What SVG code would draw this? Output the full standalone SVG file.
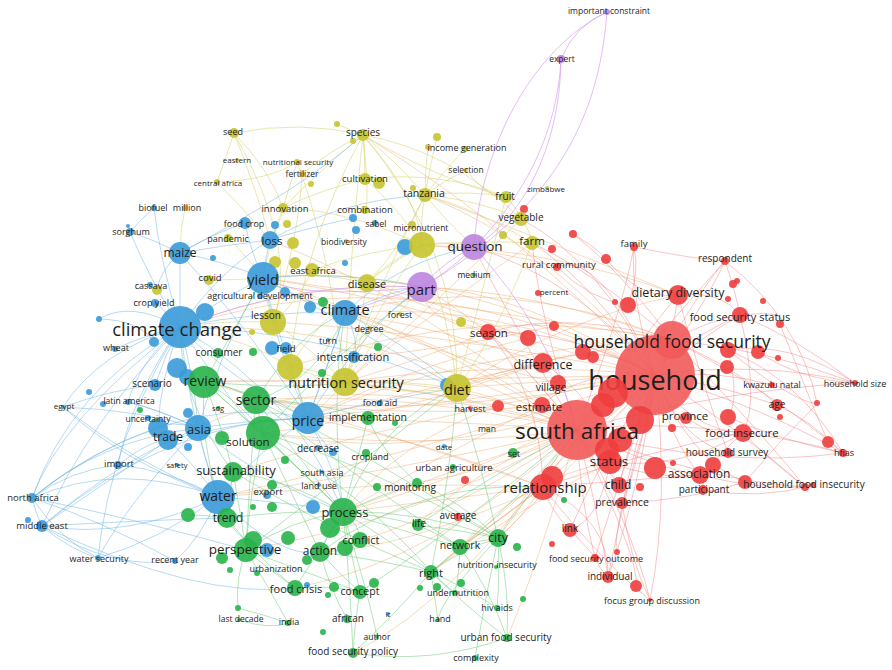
<svg xmlns="http://www.w3.org/2000/svg" width="892" height="670" viewBox="0 0 892 670">
<style>
text{font-family:"Open Sans","DejaVu Sans",sans-serif;fill:#1e1e1e;text-anchor:middle;dominant-baseline:central}
.r{fill:#ee3d3d;fill-opacity:.9}.R{fill:#f25a5a;fill-opacity:.9}
.g{fill:#27b34a;fill-opacity:.9}.b{fill:#3a9ad8;fill-opacity:.9}
.y{fill:#c6c32e;fill-opacity:.9}.p{fill:#bb85de;fill-opacity:.9}
#edges path{fill:none;stroke-width:.9}
.er{stroke:#f07070;stroke-opacity:.45}.eo{stroke:#eaa060;stroke-opacity:.45}
.eb{stroke:#6cb4e2;stroke-opacity:.55}.eg{stroke:#68c874;stroke-opacity:.55}
.ey{stroke:#d6d36a;stroke-opacity:.6}.ep{stroke:#d49ef0;stroke-opacity:.75}
</style>
<rect width="892" height="670" fill="#fff"/>
<g id="edges">
<g class="er">
<path d="M655 375Q675 330 678 295M655 375Q630 300 634 247M655 375Q705 305 725 261M655 375Q705 335 740 315M655 375Q720 370 772 385M655 375Q760 360 855 383M655 375Q720 385 777 405M655 375Q690 430 743 433M655 375Q680 440 728 453M655 375Q770 410 843 453M655 375Q670 440 700 475M655 375Q690 460 745 482M655 375Q740 430 805 487M655 375Q630 440 619 485M655 375Q640 460 622 503M655 375Q600 460 570 530M655 375Q620 480 595 558M655 375Q640 490 608 577M655 375Q670 500 650 600M655 375Q570 330 488 332M655 375Q590 280 532 243M655 375Q600 260 521 219M655 375Q580 280 474 247M655 375Q600 250 557 267M655 375Q600 340 543 363M655 375Q580 370 542 405M655 375Q580 420 543 487"/>
<path d="M577 430Q640 340 678 295M577 430Q680 340 740 315M577 430Q650 420 743 433M577 430Q700 480 805 487M577 430Q720 470 843 453M577 430Q600 520 608 577M577 430Q630 520 650 600M577 430Q580 500 595 558M577 430Q520 360 488 332M577 430Q540 320 532 243M577 430Q510 320 474 247M577 430Q620 320 634 247M577 430Q690 300 725 261M577 430Q720 390 855 383M577 430Q600 460 619 485M577 430Q660 470 700 475M577 430Q640 560 636 586"/>
<path d="M672 340Q710 320 740 315M672 340Q700 290 725 261M672 340Q740 370 777 405M672 340Q770 390 843 453M672 340Q760 430 805 487M672 340Q770 350 855 383M672 340Q630 460 608 577M672 340Q590 270 532 243M672 340Q570 310 488 332M672 340Q620 270 573 234"/>
<path d="M740 315Q800 340 855 383M725 261Q735 290 740 315M777 405Q810 420 843 453M743 433Q800 440 843 453M743 433Q770 460 805 487M678 295Q720 290 740 315M700 475Q760 490 805 487M543 487Q630 480 700 475M543 487Q650 450 743 433M543 487Q600 560 650 600M543 487Q550 510 570 530M543 487Q610 520 608 577M817 404Q780 440 745 482M780 324Q810 400 828 442M728 350Q790 400 817 404M634 247Q640 270 628 305M606 259Q640 300 678 295M622 503Q630 560 650 600M595 558Q600 570 608 577M570 530Q590 550 595 558M728 350Q790 340 855 383M740 315Q790 310 780 324M703 490Q760 500 813 485M743 433Q700 470 703 490"/>
<path d="M728 350Q800 380 843 453M758 352Q800 380 855 383M740 315Q760 400 743 433M678 295Q700 380 728 453M725 261Q800 320 817 403M634 247Q700 260 725 261M573 234Q600 250 606 259M610 462Q650 480 700 475M610 462Q680 470 743 433M543 363Q600 400 610 462M488 332Q540 390 543 487M557 267Q590 300 628 305M728 417Q780 440 843 453M686 418Q720 440 743 433M728 350Q740 400 728 417M610 462Q600 520 570 530M622 503Q690 500 745 482M655 375Q610 540 617 552"/>
</g>
<g class="eo">
<path d="M655 375Q500 300 345 313M655 375Q450 260 263 278M655 375Q420 250 180 327M655 375Q500 360 345 382M655 375Q470 400 308 418M655 375Q560 380 457 388M655 375Q430 450 218 497M655 375Q500 470 343 512M655 375Q560 480 498 538M655 375Q550 490 460 547M655 375Q520 500 431 572M655 375Q440 380 204 382M655 375Q450 420 256 400M655 375Q520 290 422 287"/>
<path d="M577 430Q420 330 263 278M577 430Q380 320 180 327M577 430Q400 390 256 400M577 430Q390 370 204 382M577 430Q400 470 218 497M577 430Q420 520 246 550M577 430Q450 520 320 552M577 430Q440 560 295 588M577 430Q540 560 507 638M577 430Q460 600 353 653M577 430Q440 420 308 418M577 430Q510 400 457 388M577 430Q470 350 345 313M577 430Q470 380 345 382M577 430Q500 330 422 287M577 430Q420 450 263 433M577 430Q450 470 343 512"/>
<path d="M543 487Q440 500 343 512M543 487Q500 520 460 547M543 487Q470 540 431 572M543 487Q420 440 308 418M543 487Q380 430 204 382M543 487Q380 480 218 497M543 363Q450 330 345 313M488 332Q400 300 263 278M488 332Q420 360 345 382M542 405Q420 420 256 400M498 406Q420 390 345 382M672 340Q500 270 345 313M672 340Q480 300 290 367M672 340Q460 350 308 418M672 340Q400 240 180 327M678 295Q560 320 457 388M678 295Q560 250 422 245M557 267Q500 250 422 245M532 243Q450 300 345 382M521 219Q440 300 345 382M457 388Q500 375 543 363M543 487Q520 520 498 538M528 338Q430 300 367 283M554 326Q450 350 354 357"/>
<path d="M655 375Q520 230 363 135M655 375Q560 250 425 195M655 375Q480 330 367 283M655 375Q470 470 263 433M655 375Q400 420 233 472M577 430Q470 470 418 525M577 430Q500 470 417 483M577 430Q420 300 270 240M577 430Q330 360 198 428M543 363Q420 390 308 418M542 405Q450 450 343 512M498 406Q400 440 343 512M488 332Q420 320 422 287M528 338Q400 370 308 418M672 340Q520 360 457 388M672 340Q420 300 263 278M678 295Q520 230 425 195M558 383Q420 350 345 313M543 487Q400 550 320 552M577 430Q520 500 498 538M610 462Q520 480 460 547M610 462Q500 520 431 572M543 363Q380 420 263 433M655 375Q420 330 273 322"/>
</g>
<g class="ey">
<path d="M363 135Q365 160 365 179M363 135Q395 160 425 195M363 135Q320 170 283 208M363 135Q330 150 302 174M363 135Q300 120 234 133M363 135Q450 150 521 219M363 135Q370 200 365 210M363 135Q420 200 422 245M363 135Q350 250 345 382M363 135Q440 180 506 197M425 195Q470 190 506 197M425 195Q480 200 521 219M425 195Q480 210 532 243M425 195Q445 180 466 170M425 195Q445 170 465 149M425 195Q420 220 422 245M425 195Q445 220 474 247M425 195Q400 250 367 283M425 195Q380 280 345 382"/>
<path d="M234 133Q270 170 283 208M234 133Q260 200 270 240M234 133Q225 160 217 182M297 162Q290 185 283 208M283 208Q280 225 270 240M283 208Q270 240 263 278M283 208Q350 210 422 245M283 208Q320 190 365 179M365 179Q400 210 422 245M365 179Q440 170 506 197M422 245Q450 240 474 247M422 245Q480 240 532 243M422 245Q380 300 345 382M422 245Q390 260 367 283M422 245Q370 250 312 270M422 245Q450 320 457 388M367 283Q340 270 312 270M367 283Q310 270 263 278M367 283Q360 330 345 382M367 283Q395 280 422 287"/>
<path d="M345 382Q320 370 290 367M345 382Q400 380 457 388M345 382Q300 340 273 322M345 382Q390 320 422 287M345 382Q330 400 308 418M273 322Q265 300 263 278M273 322Q225 320 180 327M506 197Q515 205 521 219M521 219Q530 230 532 243M437 137Q430 165 425 195M428 147Q425 170 425 195M209 280Q235 280 263 278M228 238Q250 260 263 278M217 182Q245 210 270 240M185 208Q180 230 180 253M302 174Q300 230 273 322M337 124Q350 130 363 135M290 367Q250 340 180 327M290 367Q300 390 308 418M312 270Q300 300 273 322M363 135Q460 250 457 388M466 170Q490 200 506 197"/>
<path d="M234 133Q300 250 273 322M363 135Q300 250 290 367M297 162Q330 250 345 382M506 197Q480 300 457 388M532 243Q500 330 457 388M217 182Q270 180 297 162M422 245Q330 300 290 367M457 388Q380 400 290 367"/>
</g>
<g class="ep">
<path d="M607 12Q575 25 561 59M607 12C530 50 480 150 474 247M607 12C600 100 570 200 422 287M561 59C560 150 520 220 474 247M561 59C555 180 470 260 422 287M474 247Q445 260 422 287M422 287Q300 280 180 327M422 287Q380 300 345 313M474 247Q550 330 577 430M422 287Q300 300 263 278"/>
</g>
<g class="eb">
<path d="M180 327Q180 290 180 253M180 327Q150 280 130 232M180 327Q160 260 154 208M180 327Q165 310 155 303M180 327Q145 335 115 349M180 327Q100 350 63 407M180 327Q140 360 128 402M180 327Q70 390 32 498M180 327Q90 420 42 526M180 327Q130 400 118 465M180 327Q160 380 158 428M180 327Q195 380 198 428M180 327Q190 420 218 497M180 327Q165 355 155 385M180 327Q220 300 263 278M180 327Q220 270 270 240M180 327Q230 380 308 418M180 327Q260 310 345 313M180 327Q110 440 98 558M180 327Q130 300 99 319M180 327Q320 330 457 388"/>
<path d="M180 253Q220 260 263 278M180 253Q155 240 130 232M180 253Q210 235 245 223M180 253Q225 245 270 240M180 253Q250 330 308 418M180 253Q160 270 157 290M32 498Q35 512 42 526M32 498Q120 460 218 497M32 498Q100 440 198 428M32 498Q70 470 118 465M32 498Q90 450 158 428M32 498Q170 390 308 418M32 498Q60 540 98 558M32 498Q100 520 175 561M42 526Q130 540 218 497M42 526Q70 550 98 558M42 526Q120 460 198 428M42 526Q110 570 175 561M42 526Q170 420 308 418M42 526Q110 480 168 440"/>
<path d="M218 497Q160 540 98 558M218 497Q200 540 175 561M218 497Q190 460 168 440M218 497Q205 460 198 428M218 497Q260 450 308 418M218 497Q120 460 63 407M218 497Q170 470 118 465M198 428Q250 420 308 418M198 428Q170 420 158 428M198 428Q140 410 63 407M198 428Q160 410 128 402M198 428Q220 350 263 278M308 418Q280 340 263 278M308 418Q330 360 345 313M308 418Q380 400 457 388M308 418Q250 420 168 440M308 418Q370 320 422 287"/>
<path d="M263 278Q265 260 270 240M263 278Q300 300 345 313M263 278Q250 250 245 223M263 278Q340 270 422 287M263 278Q360 330 457 388M263 278Q280 360 308 418M345 313Q390 290 422 287M345 313Q330 360 308 418M345 313Q400 340 457 388M345 313Q360 340 354 357M63 407Q110 390 155 385M118 465Q150 440 168 440M128 402Q160 410 198 428M98 558Q130 500 198 428M130 232Q140 220 154 208M218 497Q230 540 267 550M308 418Q320 440 333 452M218 497Q260 500 313 507M270 240Q300 230 353 218M99 319Q140 320 154 342"/>
<path d="M180 327Q300 400 343 512M180 327Q250 430 263 433M198 428Q260 480 343 512M218 497Q280 560 320 552M32 498Q140 520 246 550M42 526Q150 520 227 518M63 407Q130 460 218 497M308 418Q340 480 343 512M270 240Q340 200 425 195M345 313Q400 260 474 247M180 253Q300 190 363 135M32 498Q60 420 180 327M42 526Q200 600 295 588"/>
</g>
<g class="eg">
<path d="M204 382Q230 385 256 400M204 382Q240 400 263 433M204 382Q200 440 218 497M204 382Q270 440 343 512M204 382Q250 390 308 418M204 382Q220 420 233 472M256 400Q260 420 263 433M256 400Q300 460 343 512M256 400Q250 470 246 550M256 400Q380 460 498 538M256 400Q360 480 460 547M256 400Q310 400 368 418M263 433Q300 470 343 512M263 433Q290 490 320 552M263 433Q250 490 246 550M263 433Q380 470 498 538M263 433Q370 500 431 572M233 472Q290 480 343 512M233 472Q240 510 246 550M233 472Q330 530 431 572M233 472Q230 495 227 518"/>
<path d="M343 512Q420 510 498 538M343 512Q400 530 460 547M343 512Q390 540 431 572M343 512Q350 550 360 592M343 512Q380 515 418 525M343 512Q380 495 417 483M343 512Q320 550 295 588M343 512Q290 520 246 550M343 512Q330 530 320 552M343 512Q360 525 360 540M246 550Q270 570 295 588M246 550Q270 590 288 623M246 550Q235 580 238 608M246 550Q300 570 360 592M320 552Q340 575 360 592M320 552Q380 560 431 572M320 552Q330 590 347 619"/>
<path d="M498 538Q480 540 460 547M498 538Q510 590 507 638M498 538Q460 550 431 572M498 538Q500 575 497 608M498 538Q485 600 475 658M460 547Q445 560 431 572M460 547Q460 570 455 593M460 547Q490 590 507 638M431 572Q445 585 455 593M431 572Q470 590 497 608M431 572Q435 600 438 620M431 572Q470 610 507 638M431 572Q390 620 353 653M353 653Q350 580 343 512M353 653Q430 665 507 638M353 653Q355 620 360 592M360 592Q330 585 295 588M418 525Q460 530 498 538M418 525Q440 535 460 547M227 518Q290 510 343 512M227 518Q205 515 188 515M227 518Q260 560 295 588M417 483Q460 500 498 538M368 418Q355 470 343 512M238 608Q265 615 288 623M343 512Q370 600 377 637M498 538Q440 600 438 620M204 382Q300 390 345 382M256 400Q320 380 345 313M239 620Q270 630 288 623"/>
<path d="M343 512Q380 420 457 388M343 512Q330 400 345 313M256 400Q300 330 345 313M263 433Q340 350 422 287M204 382Q240 320 263 278M233 472Q180 400 180 327M343 512Q260 430 204 382M498 538Q480 460 457 388M431 572Q450 480 457 388M460 547Q520 500 577 430M498 538Q540 480 577 430M360 592Q470 520 577 430M418 525Q500 470 577 430M417 483Q380 450 368 418M246 550Q350 470 457 388M320 552Q420 480 543 487"/>
</g>
</g>
<g id="nodes">
<g id="u-red"><circle class="r" cx="573" cy="234" r="4"/><circle class="r" cx="552" cy="249" r="4"/><circle class="r" cx="606" cy="259" r="5"/><circle class="r" cx="628" cy="305" r="8"/><circle class="r" cx="615" cy="302" r="3"/><circle class="r" cx="733" cy="284" r="4"/><circle class="r" cx="737" cy="281" r="3"/><circle class="r" cx="728" cy="299" r="3"/><circle class="r" cx="763" cy="301" r="3"/><circle class="r" cx="780" cy="324" r="4"/><circle class="r" cx="728" cy="350" r="8"/><circle class="r" cx="758" cy="352" r="7"/><circle class="r" cx="778" cy="358" r="3"/><circle class="r" cx="583" cy="352" r="8"/><circle class="r" cx="593" cy="357" r="6"/><circle class="r" cx="727" cy="367" r="7"/><circle class="r" cx="817" cy="403" r="3"/><circle class="r" cx="780" cy="417" r="3"/><circle class="r" cx="728" cy="417" r="8"/><circle class="r" cx="672" cy="428" r="4"/><circle class="r" cx="828" cy="442" r="6"/><circle class="r" cx="673" cy="463" r="3"/><circle class="r" cx="713" cy="465" r="8"/><circle class="r" cx="640" cy="487" r="4"/><circle class="r" cx="813" cy="485" r="3"/><circle class="r" cx="805" cy="487" r="4"/><circle class="r" cx="617" cy="552" r="3"/><circle class="r" cx="636" cy="586" r="6"/><circle class="r" cx="528" cy="338" r="8"/><circle class="r" cx="554" cy="326" r="5"/><circle class="r" cx="498" cy="406" r="6"/><circle class="r" cx="465" cy="480" r="4"/><circle class="r" cx="552" cy="544" r="3"/><circle class="r" cx="524" cy="209" r="4"/></g>
<g id="u-yellow"><circle class="y" cx="337" cy="124" r="3"/><circle class="y" cx="353" cy="141" r="3"/><circle class="y" cx="311" cy="184" r="3"/><circle class="y" cx="428" cy="147" r="3"/><circle class="y" cx="437" cy="137" r="4"/><circle class="y" cx="379" cy="183" r="6"/><circle class="y" cx="413" cy="188" r="3"/><circle class="y" cx="503" cy="235" r="4"/><circle class="y" cx="287" cy="224" r="4"/><circle class="y" cx="293" cy="243" r="6"/><circle class="y" cx="275" cy="262" r="6"/><circle class="y" cx="295" cy="263" r="6"/><circle class="y" cx="461" cy="322" r="5"/><circle class="y" cx="252" cy="332" r="3"/></g>
<g id="u-blue"><circle class="b" cx="128" cy="226" r="2"/><circle class="b" cx="213" cy="258" r="3"/><circle class="b" cx="275" cy="225" r="4"/><circle class="b" cx="285" cy="292" r="5"/><circle class="b" cx="205" cy="312" r="9"/><circle class="b" cx="99" cy="319" r="3"/><circle class="b" cx="154" cy="342" r="5"/><circle class="b" cx="310" cy="307" r="6"/><circle class="b" cx="177" cy="368" r="10"/><circle class="b" cx="187" cy="377" r="8"/><circle class="b" cx="103" cy="404" r="3"/><circle class="b" cx="89" cy="392" r="3"/><circle class="b" cx="188" cy="413" r="5"/><circle class="b" cx="158" cy="428" r="10"/><circle class="b" cx="188" cy="447" r="4"/><circle class="b" cx="313" cy="507" r="7"/><circle class="b" cx="267" cy="550" r="7"/><circle class="b" cx="28" cy="520" r="3"/><circle class="b" cx="353" cy="218" r="4"/><circle class="b" cx="356" cy="230" r="4"/><circle class="b" cx="405" cy="247" r="8"/><circle class="b" cx="345" cy="263" r="3"/><circle class="b" cx="272" cy="348" r="7"/><circle class="b" cx="333" cy="452" r="4"/><circle class="b" cx="307" cy="585" r="3"/><circle class="b" cx="150" cy="285" r="3"/><circle class="b" cx="447" cy="385" r="7"/></g>
<g id="u-green"><circle class="g" cx="253" cy="352" r="4"/><circle class="g" cx="140" cy="410" r="3"/><circle class="g" cx="222" cy="438" r="7"/><circle class="g" cx="272" cy="485" r="5"/><circle class="g" cx="272" cy="507" r="5"/><circle class="g" cx="253" cy="507" r="3"/><circle class="g" cx="188" cy="515" r="7"/><circle class="g" cx="253" cy="540" r="9"/><circle class="g" cx="222" cy="558" r="6"/><circle class="g" cx="230" cy="570" r="3"/><circle class="g" cx="288" cy="538" r="7"/><circle class="g" cx="330" cy="528" r="10"/><circle class="g" cx="345" cy="548" r="8"/><circle class="g" cx="307" cy="560" r="5"/><circle class="g" cx="334" cy="587" r="5"/><circle class="g" cx="328" cy="595" r="3"/><circle class="g" cx="374" cy="583" r="5"/><circle class="g" cx="420" cy="588" r="3"/><circle class="g" cx="437" cy="587" r="4"/><circle class="g" cx="461" cy="583" r="4"/><circle class="g" cx="523" cy="599" r="3"/><circle class="g" cx="517" cy="547" r="4"/><circle class="g" cx="323" cy="632" r="3"/><circle class="g" cx="238" cy="608" r="3"/><circle class="g" cx="377" cy="487" r="4"/><circle class="g" cx="322" cy="373" r="4"/><circle class="g" cx="378" cy="347" r="4"/><circle class="g" cx="395" cy="423" r="3"/><circle class="g" cx="285" cy="460" r="4"/><circle class="g" cx="564" cy="500" r="3"/><circle class="g" cx="323" cy="302" r="5"/></g>
<g id="n-household"><circle class="R" cx="655" cy="375" r="40"/><text x="655" y="379" font-size="27">household</text></g>
<g id="n-south-africa"><circle class="R" cx="577" cy="430" r="30"/><circle class="r" cx="613" cy="393" r="15"/><circle class="r" cx="640" cy="420" r="14"/><circle class="r" cx="603" cy="405" r="12"/><circle class="r" cx="620" cy="440" r="12"/><circle class="r" cx="552" cy="477" r="11"/><circle class="r" cx="607" cy="450" r="12"/><circle class="r" cx="655" cy="468" r="11"/><text x="577" y="430" font-size="22.5">south africa</text></g>
<g id="n-household-food-security"><circle class="R" cx="672" cy="340" r="19"/><text x="672" y="341" font-size="17.5">household food security</text></g>
<g id="n-climate-change"><circle class="b" cx="180" cy="327" r="21"/><text x="177" y="328" font-size="18.5">climate change</text></g>
<g id="n-yield"><circle class="b" cx="263" cy="278" r="16"/><text x="263" y="279" font-size="14.5">yield</text></g>
<g id="n-price"><circle class="b" cx="308" cy="418" r="16"/><text x="308" y="420" font-size="14">price</text></g>
<g id="n-water"><circle class="b" cx="218" cy="497" r="17"/><text x="218" y="495" font-size="14">water</text></g>
<g id="n-solution"><circle class="g" cx="263" cy="433" r="17"/><text x="248" y="441" font-size="11.5">solution</text></g>
<g id="n-review"><circle class="g" cx="204" cy="382" r="16"/><text x="205" y="380" font-size="14">review</text></g>
<g id="n-part"><circle class="p" cx="422" cy="287" r="15"/><text x="421" y="289" font-size="15">part</text></g>
<g id="n-sector"><circle class="g" cx="256" cy="400" r="14"/><text x="256" y="399" font-size="14">sector</text></g>
<g id="n-process"><circle class="g" cx="343" cy="512" r="14"/><text x="345" y="512" font-size="13">process</text></g>
<g id="n-nutrition-security"><circle class="y" cx="290" cy="367" r="13"/><circle class="y" cx="345" cy="382" r="14"/><text x="346" y="382" font-size="14.5">nutrition security</text></g>
<g id="n-diet"><circle class="y" cx="457" cy="388" r="14"/><text x="457" y="389" font-size="14.5">diet</text></g>
<g id="n-asia"><circle class="b" cx="198" cy="428" r="13"/><text x="199" y="429" font-size="13">asia</text></g>
<g id="n-climate"><circle class="b" cx="345" cy="313" r="13"/><text x="345" y="309" font-size="14.5">climate</text></g>
<g id="n-question"><circle class="p" cx="474" cy="247" r="13"/><text x="475" y="246" font-size="13.5">question</text></g>
<g id="n-micronutrient"><circle class="y" cx="422" cy="245" r="13"/><circle class="y" cx="412" cy="225" r="4"/><text x="421" y="227" font-size="8.5">micronutrient</text></g>
<g id="n-lesson"><circle class="y" cx="273" cy="322" r="13"/><text x="266" y="315" font-size="10">lesson</text></g>
<g id="n-relationship"><circle class="r" cx="543" cy="487" r="13"/><text x="545" y="487" font-size="15">relationship</text></g>
<g id="n-status"><circle class="r" cx="610" cy="462" r="12"/><text x="609" y="461" font-size="13.5">status</text></g>
<g id="n-perspective"><circle class="g" cx="246" cy="550" r="12"/><text x="245" y="549" font-size="13.5">perspective</text></g>
<g id="n-maize"><circle class="b" cx="180" cy="253" r="11"/><text x="180" y="252" font-size="12">maize</text></g>
<g id="n-trade"><circle class="b" cx="168" cy="440" r="10"/><text x="168" y="436" font-size="12">trade</text></g>
<g id="n-sustainability"><circle class="g" cx="233" cy="472" r="10"/><text x="236" y="470" font-size="13">sustainability</text></g>
<g id="n-trend"><circle class="g" cx="227" cy="518" r="10"/><text x="228" y="517" font-size="12">trend</text></g>
<g id="n-action"><circle class="g" cx="320" cy="552" r="10"/><text x="320" y="550" font-size="12">action</text></g>
<g id="n-dietary-diversity"><circle class="r" cx="678" cy="295" r="10"/><text x="678" y="292" font-size="12.5">dietary diversity</text></g>
<g id="n-difference"><circle class="r" cx="543" cy="363" r="10"/><text x="543" y="364" font-size="12.5">difference</text></g>
<g id="n-loss"><circle class="b" cx="270" cy="240" r="9"/><text x="272" y="240" font-size="11.5">loss</text></g>
<g id="n-disease"><circle class="y" cx="367" cy="283" r="9"/><text x="367" y="283" font-size="11">disease</text></g>
<g id="n-food-insecure"><circle class="r" cx="743" cy="433" r="9"/><text x="742" y="432" font-size="11.5">food insecure</text></g>
<g id="n-association"><circle class="r" cx="700" cy="475" r="9"/><text x="699" y="473" font-size="12">association</text></g>
<g id="n-city"><circle class="g" cx="498" cy="538" r="9"/><text x="498" y="537" font-size="12.5">city</text></g>
<g id="n-season"><circle class="r" cx="488" cy="332" r="8"/><text x="489" y="332" font-size="11.5">season</text></g>
<g id="n-village"><circle class="r" cx="558" cy="383" r="8"/><text x="551" y="387" font-size="10.5">village</text></g>
<g id="n-estimate"><circle class="r" cx="542" cy="405" r="8"/><text x="539" y="406" font-size="11.5">estimate</text></g>
<g id="n-food-security-status"><circle class="r" cx="740" cy="315" r="8"/><text x="740" y="316" font-size="11">food security status</text></g>
<g id="n-child"><circle class="r" cx="619" cy="485" r="8"/><text x="618" y="484" font-size="12">child</text></g>
<g id="n-conflict"><circle class="g" cx="360" cy="540" r="8"/><text x="361" y="539" font-size="11">conflict</text></g>
<g id="n-network"><circle class="g" cx="460" cy="547" r="8"/><text x="460" y="545" font-size="10.5">network</text></g>
<g id="n-food-crisis"><circle class="g" cx="295" cy="588" r="8"/><text x="296" y="588" font-size="11">food crisis</text></g>
<g id="n-tanzania"><circle class="y" cx="425" cy="195" r="7"/><text x="424" y="193" font-size="10.5">tanzania</text></g>
<g id="n-vegetable"><circle class="y" cx="521" cy="219" r="7"/><text x="521" y="217" font-size="10">vegetable</text></g>
<g id="n-farm"><circle class="y" cx="532" cy="243" r="7"/><text x="532" y="240" font-size="11.5">farm</text></g>
<g id="n-east-africa"><circle class="y" cx="312" cy="270" r="7"/><text x="313" y="270" font-size="9.5">east africa</text></g>
<g id="n-implementation"><circle class="g" cx="368" cy="418" r="7"/><text x="368" y="417" font-size="10.5">implementation</text></g>
<g id="n-right"><circle class="g" cx="431" cy="572" r="7"/><text x="431" y="572" font-size="11">right</text></g>
<g id="n-concept"><circle class="g" cx="360" cy="592" r="7"/><text x="360" y="591" font-size="10.5">concept</text></g>
<g id="n-link"><circle class="r" cx="570" cy="530" r="7"/><text x="570" y="528" font-size="10">link</text></g>
<g id="n-household-food-insecurity"><circle class="r" cx="745" cy="482" r="7"/><text x="804" y="484" font-size="10">household food insecurity</text></g>
<g id="n-species"><circle class="y" cx="363" cy="135" r="6"/><text x="363" y="132" font-size="10">species</text></g>
<g id="n-cultivation"><circle class="y" cx="365" cy="179" r="6"/><text x="365" y="178" font-size="9.5">cultivation</text></g>
<g id="n-fruit"><circle class="y" cx="506" cy="197" r="6"/><text x="505" y="196" font-size="10">fruit</text></g>
<g id="n-food-crop"><circle class="b" cx="245" cy="223" r="6"/><text x="244" y="223" font-size="9">food crop</text></g>
<g id="n-scenario"><circle class="b" cx="155" cy="385" r="6"/><text x="152" y="383" font-size="10">scenario</text></g>
<g id="n-field"><circle class="b" cx="286" cy="348" r="6"/><text x="286" y="348" font-size="9.5">field</text></g>
<g id="n-intensification"><circle class="b" cx="354" cy="357" r="6"/><text x="353" y="356" font-size="11">intensification</text></g>
<g id="n-middle-east"><circle class="b" cx="42" cy="526" r="6"/><text x="42" y="525" font-size="9.5">middle east</text></g>
<g id="n-age"><circle class="r" cx="777" cy="405" r="6"/><text x="777" y="404" font-size="10">age</text></g>
<g id="n-province"><circle class="r" cx="686" cy="418" r="6"/><text x="685" y="415" font-size="11.5">province</text></g>
<g id="n-prevalence"><circle class="r" cx="622" cy="503" r="6"/><text x="622" y="502" font-size="10.5">prevalence</text></g>
<g id="n-individual"><circle class="r" cx="608" cy="577" r="6"/><text x="610" y="576" font-size="10">individual</text></g>
<g id="n-life"><circle class="g" cx="418" cy="525" r="6"/><text x="419" y="523" font-size="10">life</text></g>
<g id="n-seed"><circle class="y" cx="234" cy="133" r="5"/><text x="233" y="131" font-size="9">seed</text></g>
<g id="n-innovation"><circle class="y" cx="283" cy="208" r="5"/><text x="285" y="208" font-size="9.5">innovation</text></g>
<g id="n-covid"><circle class="y" cx="209" cy="280" r="5"/><text x="210" y="277" font-size="9.5">covid</text></g>
<g id="n-cassava"><circle class="y" cx="157" cy="290" r="5"/><text x="151" y="285" font-size="9">cassava</text></g>
<g id="n-consumer"><circle class="g" cx="218" cy="353" r="5"/><text x="219" y="352" font-size="10">consumer</text></g>
<g id="n-north-africa"><circle class="b" cx="32" cy="498" r="5"/><text x="33" y="497" font-size="9.5">north africa</text></g>
<g id="n-household-survey"><circle class="r" cx="728" cy="453" r="5"/><text x="727" y="452" font-size="10">household survey</text></g>
<g id="n-participant"><circle class="r" cx="703" cy="490" r="5"/><text x="704" y="489" font-size="10">participant</text></g>
<g id="n-set"><circle class="g" cx="513" cy="453" r="5"/><text x="514" y="453" font-size="9">set</text></g>
<g id="n-monitoring"><circle class="g" cx="417" cy="483" r="5"/><text x="410" y="487" font-size="10">monitoring</text></g>
<g id="n-food-security-policy"><circle class="g" cx="353" cy="653" r="5"/><text x="353" y="651" font-size="10">food security policy</text></g>
<g id="n-expert"><circle class="p" cx="561" cy="59" r="4"/><text x="562" y="58" font-size="8.5">expert</text></g>
<g id="n-combination"><circle class="y" cx="365" cy="210" r="4"/><text x="365" y="209" font-size="9.5">combination</text></g>
<g id="n-pandemic"><circle class="y" cx="228" cy="238" r="4"/><text x="228" y="238" font-size="9">pandemic</text></g>
<g id="n-sorghum"><circle class="b" cx="130" cy="232" r="4"/><text x="131" y="231" font-size="9">sorghum</text></g>
<g id="n-crop-yield"><circle class="b" cx="155" cy="303" r="4"/><text x="154" y="302" font-size="9">crop yield</text></g>
<g id="n-import"><circle class="b" cx="118" cy="465" r="4"/><text x="119" y="463" font-size="9.5">import</text></g>
<g id="n-export"><circle class="b" cx="267" cy="495" r="4"/><text x="268" y="491" font-size="9.5">export</text></g>
<g id="n-family"><circle class="r" cx="634" cy="247" r="4"/><text x="634" y="243" font-size="9.5">family</text></g>
<g id="n-respondent"><circle class="r" cx="725" cy="261" r="4"/><text x="725" y="258" font-size="10">respondent</text></g>
<g id="n-rural-community"><circle class="r" cx="557" cy="267" r="4"/><text x="559" y="264" font-size="9.5">rural community</text></g>
<g id="n-hfias"><circle class="r" cx="843" cy="453" r="4"/><text x="844" y="452" font-size="9">hfias</text></g>
<g id="n-food-security-outcome"><circle class="r" cx="595" cy="558" r="4"/><text x="596" y="558" font-size="9">food security outcome</text></g>
<g id="n-average"><circle class="r" cx="458" cy="517" r="4"/><text x="458" y="515" font-size="10">average</text></g>
<g id="n-cropland"><circle class="g" cx="366" cy="453" r="4"/><text x="370" y="456" font-size="9">cropland</text></g>
<g id="n-african"><circle class="g" cx="347" cy="619" r="4"/><text x="348" y="618" font-size="10">african</text></g>
<g id="n-urban-food-security"><circle class="g" cx="507" cy="638" r="4"/><text x="506" y="637" font-size="10">urban food security</text></g>
<g id="n-important-constraint"><circle class="p" cx="607" cy="12" r="3"/><text x="609" y="10" font-size="8.5">important constraint</text></g>
<g id="n-nutritional-security"><circle class="y" cx="297" cy="162" r="3"/><text x="298" y="161" font-size="8">nutritional security</text></g>
<g id="n-fertilizer"><circle class="y" cx="302" cy="174" r="3"/><text x="302" y="173" font-size="8.5">fertilizer</text></g>
<g id="n-central-africa"><circle class="y" cx="217" cy="182" r="3"/><text x="218" y="182" font-size="8">central africa</text></g>
<g id="n-income-generation"><circle class="y" cx="465" cy="149" r="3"/><text x="467" y="147" font-size="9">income generation</text></g>
<g id="n-million"><circle class="y" cx="185" cy="208" r="3"/><text x="187" y="207" font-size="9">million</text></g>
<g id="n-biofuel"><circle class="b" cx="154" cy="208" r="3"/><text x="153" y="207" font-size="9">biofuel</text></g>
<g id="n-sabel"><circle class="b" cx="375" cy="223" r="3"/><text x="376" y="223" font-size="8.5">sabel</text></g>
<g id="n-percent"><circle class="r" cx="538" cy="293" r="3"/><text x="554" y="291" font-size="8">percent</text></g>
<g id="n-agricultural-development"><circle class="b" cx="260" cy="296" r="3"/><text x="260" y="295" font-size="9">agricultural development</text></g>
<g id="n-wheat"><circle class="b" cx="115" cy="349" r="3"/><text x="116" y="347" font-size="9">wheat</text></g>
<g id="n-latin-america"><circle class="b" cx="128" cy="402" r="3"/><text x="129" y="400" font-size="8.5">latin america</text></g>
<g id="n-uncertainty"><circle class="b" cx="148" cy="418" r="3"/><text x="148" y="418" font-size="8.5">uncertainty</text></g>
<g id="n-food-aid"><circle class="b" cx="380" cy="403" r="3"/><text x="380" y="402" font-size="9">food aid</text></g>
<g id="n-decrease"><circle class="b" cx="318" cy="448" r="3"/><text x="318" y="448" font-size="10">decrease</text></g>
<g id="n-water-security"><circle class="b" cx="98" cy="558" r="3"/><text x="99" y="558" font-size="9">water security</text></g>
<g id="n-recent-year"><circle class="b" cx="175" cy="561" r="3"/><text x="175" y="559" font-size="9">recent year</text></g>
<g id="n-kwazulu-natal"><circle class="r" cx="772" cy="385" r="3"/><text x="772" y="384" font-size="9">kwazulu natal</text></g>
<g id="n-household-size"><circle class="r" cx="855" cy="383" r="3"/><text x="855" y="383" font-size="9">household size</text></g>
<g id="n-urbanization"><circle class="g" cx="257" cy="573" r="3"/><text x="276" y="568" font-size="9">urbanization</text></g>
<g id="n-india"><circle class="g" cx="288" cy="623" r="3"/><text x="289" y="621" font-size="9">india</text></g>
<g id="n-urban-agriculture"><circle class="g" cx="453" cy="467" r="3"/><text x="454" y="467" font-size="9.5">urban agriculture</text></g>
<g id="n-undernutrition"><circle class="g" cx="455" cy="593" r="3"/><text x="458" y="592" font-size="9">undernutrition</text></g>
<g id="n-hiv-aids"><circle class="g" cx="497" cy="608" r="3"/><text x="497" y="607" font-size="9">hiv aids</text></g>
<g id="n-complexity"><circle class="g" cx="475" cy="658" r="3"/><text x="476" y="657" font-size="9">complexity</text></g>
<g id="n-eastern"><circle class="y" cx="237" cy="160" r="2"/><text x="237" y="159" font-size="8">eastern</text></g>
<g id="n-selection"><circle class="y" cx="466" cy="170" r="2"/><text x="466" y="169" font-size="8.5">selection</text></g>
<g id="n-zimbabwe"><circle class="y" cx="547" cy="188" r="2"/><text x="546" y="188" font-size="8">zimbabwe</text></g>
<g id="n-biodiversity"><circle class="y" cx="346" cy="241" r="2"/><text x="344" y="241" font-size="8.5">biodiversity</text></g>
<g id="n-medium"><circle class="g" cx="474" cy="275" r="2"/><text x="474" y="274" font-size="8.5">medium</text></g>
<g id="n-forest"><circle class="y" cx="400" cy="314" r="2"/><text x="400" y="314" font-size="9">forest</text></g>
<g id="n-degree"><circle class="y" cx="369" cy="328" r="2"/><text x="369" y="328" font-size="9">degree</text></g>
<g id="n-turn"><circle class="b" cx="328" cy="340" r="2"/><text x="328" y="340" font-size="9">turn</text></g>
<g id="n-egypt"><circle class="b" cx="63" cy="407" r="2"/><text x="64" y="405" font-size="8">egypt</text></g>
<g id="n-sdg"><circle class="g" cx="218" cy="408" r="2"/><text x="218" y="408" font-size="7.5">sdg</text></g>
<g id="n-safety"><circle class="b" cx="177" cy="465" r="2"/><text x="177" y="465" font-size="7.5">safety</text></g>
<g id="n-harvest"><circle class="r" cx="470" cy="408" r="2"/><text x="470" y="408" font-size="9">harvest</text></g>
<g id="n-man"><circle class="y" cx="487" cy="429" r="2"/><text x="487" y="428" font-size="8.5">man</text></g>
<g id="n-date"><circle class="b" cx="444" cy="446" r="2"/><text x="444" y="446" font-size="8">date</text></g>
<g id="n-south-asia"><circle class="b" cx="322" cy="472" r="2"/><text x="322" y="472" font-size="9">south asia</text></g>
<g id="n-land-use"><circle class="b" cx="319" cy="485" r="2"/><text x="319" y="485" font-size="9">land use</text></g>
<g id="n-last-decade"><circle class="g" cx="239" cy="620" r="2"/><text x="241" y="618" font-size="8.5">last decade</text></g>
<g id="n-nutrition-insecurity"><circle class="g" cx="496" cy="567" r="2"/><text x="497" y="564" font-size="9">nutrition insecurity</text></g>
<g id="n-ic"><circle class="b" cx="388" cy="614" r="2"/><text x="388" y="614" font-size="7">ic</text></g>
<g id="n-hand"><circle class="g" cx="438" cy="620" r="2"/><text x="440" y="618" font-size="9">hand</text></g>
<g id="n-author"><circle class="g" cx="377" cy="637" r="2"/><text x="377" y="636" font-size="8.5">author</text></g>
<g id="n-focus-group-discussion"><circle class="r" cx="650" cy="600" r="2"/><text x="652" y="600" font-size="9">focus group discussion</text></g>
</g>
</svg>
